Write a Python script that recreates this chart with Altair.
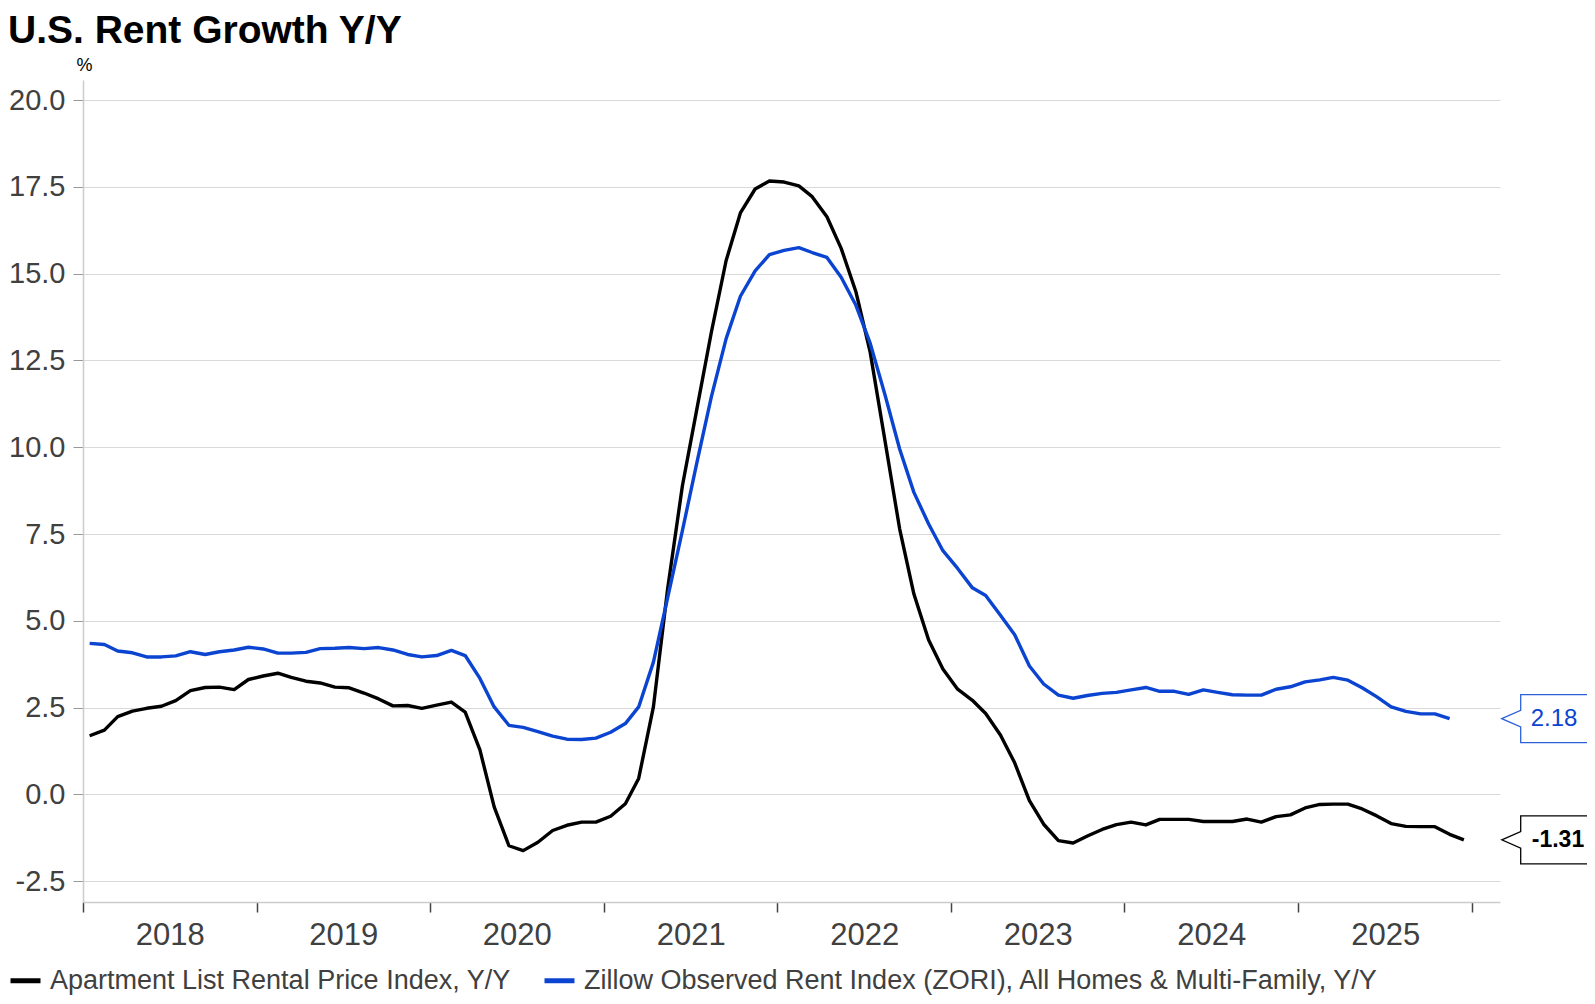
import altair as alt
import pandas as pd

FONT = "Liberation Sans"

S_APT = "Apartment List Rental Price Index, Y/Y"
S_ZORI = "Zillow Observed Rent Index (ZORI), All Homes & Multi-Family, Y/Y"

years = list(range(2018, 2026))

# Apartment List, Jan 2018 .. Dec 2025 (monthly, %)
apt = [
    1.69, 1.85, 2.24, 2.40, 2.48, 2.54, 2.70, 2.99, 3.08, 3.09, 3.02, 3.31,
    3.41, 3.49, 3.37, 3.26, 3.21, 3.09, 3.07, 2.92, 2.75, 2.55, 2.56, 2.48,
    2.57, 2.66, 2.37, 1.28, -0.36, -1.48, -1.62, -1.38, -1.04, -0.89, -0.80, -0.80,
    -0.63, -0.27, 0.46, 2.52, 5.93, 8.89, 11.07, 13.32, 15.38, 16.75, 17.44, 17.67,
    17.64, 17.53, 17.22, 16.64, 15.73, 14.48, 12.74, 10.20, 7.65, 5.77, 4.45, 3.61,
    3.03, 2.71, 2.33, 1.71, 0.91, -0.18, -0.86, -1.33, -1.40, -1.20, -1.01, -0.87,
    -0.80, -0.88, -0.72, -0.72, -0.72, -0.78, -0.78, -0.78, -0.71, -0.80, -0.64, -0.59,
    -0.39, -0.29, -0.28, -0.28, -0.42, -0.62, -0.84, -0.92, -0.93, -0.93, -1.15, -1.31,
]

# Zillow ZORI, Jan 2018 .. Nov 2025 (monthly, %)
zori = [
    4.35, 4.32, 4.13, 4.08, 3.96, 3.96, 3.99, 4.11, 4.03, 4.11, 4.16, 4.24,
    4.19, 4.07, 4.07, 4.09, 4.20, 4.21, 4.23, 4.20, 4.23, 4.16, 4.03, 3.96,
    4.00, 4.15, 4.00, 3.34, 2.52, 1.99, 1.93, 1.81, 1.68, 1.59, 1.58, 1.62,
    1.79, 2.04, 2.52, 3.81, 5.67, 7.60, 9.53, 11.46, 13.13, 14.35, 15.08, 15.55,
    15.67, 15.75, 15.61, 15.47, 14.90, 14.09, 13.00, 11.52, 9.95, 8.70, 7.79, 7.02,
    6.51, 5.95, 5.73, 5.16, 4.60, 3.70, 3.18, 2.86, 2.77, 2.85, 2.91, 2.94,
    3.01, 3.08, 2.97, 2.97, 2.88, 3.01, 2.94, 2.87, 2.86, 2.86, 3.03, 3.10,
    3.24, 3.30, 3.37, 3.29, 3.07, 2.81, 2.52, 2.39, 2.32, 2.32, 2.18,
]

months = [f"{y}-{m:02d}-15T00:00:00" for y in years for m in range(1, 13)]

rows = []
for d, v in zip(months, apt):
    rows.append({"date": d, "value": v, "series": S_APT})
for d, v in zip(months, zori):
    rows.append({"date": d, "value": v, "series": S_ZORI})
df = pd.DataFrame(rows)

last_apt = pd.DataFrame([{"date": months[len(apt) - 1], "value": apt[-1], "label": f"{apt[-1]:.2f}"}])
last_zori = pd.DataFrame([{"date": months[len(zori) - 1], "value": zori[-1], "label": f"{zori[-1]:.2f}"}])

BLUE = "#0a44d0"
BLUE_BOX = "#2e62dc"

x_enc = alt.X(
    "date:T",
    title=None,
    scale=alt.Scale(domain=[alt.DateTime(year=2018, month=1, date=1),
                            alt.DateTime(year=2026, month=3, date=1)]),
    axis=alt.Axis(
        values=[alt.DateTime(year=y, month=1, date=1) for y in range(2018, 2027)],
        format="%Y",
        labelExpr="year(datum.value) >= 2026 ? '' : datum.label",
        labelOffset=86.75,
        labelFlush=False,
        labelOverlap=False,
        labelFontSize=31,
        labelColor="#404040",
        labelFont=FONT,
        labelPadding=8,
        tickSize=10,
        tickColor="#444444",
        tickWidth=1.5,
        domainColor="#cccccc",
        domainWidth=1.5,
        grid=False,
    ),
)

y_enc = alt.Y(
    "value:Q",
    scale=alt.Scale(domain=[-3.1, 20.58], nice=False, zero=False),
    axis=alt.Axis(
        values=[-2.5, 0, 2.5, 5, 7.5, 10, 12.5, 15, 17.5, 20],
        format=".1f",
        labelExpr="replace(datum.label, '\u2212', '-')",
        labelFontSize=29,
        labelColor="#404040",
        labelFont=FONT,
        labelPadding=8,
        tickSize=10,
        tickColor="#999999",
        domainColor="#cccccc",
        domainWidth=1.5,
        grid=True,
        gridColor="#d9d9d9",
        gridWidth=1.2,
        title="%",
        titleAngle=0,
        titleX=1,
        titleY=-10,
        titleAlign="center",
        titleBaseline="alphabetic",
        titleFontSize=18,
        titleFontWeight="normal",
        titleColor="#000000",
        titleFont=FONT,
    ),
)

lines = alt.Chart(df).mark_line(strokeWidth=3.4, strokeJoin="round").encode(
    x=x_enc,
    y=y_enc,
    color=alt.Color(
        "series:N",
        scale=alt.Scale(domain=[S_APT, S_ZORI], range=["#000000", BLUE]),
        legend=alt.Legend(
            title=None,
            orient="none",
            legendX=-75,
            legendY=883,
            direction="horizontal",
            symbolType="stroke",
            symbolStrokeWidth=5,
            symbolSize=900,
            labelFontSize=27,
            labelFont=FONT,
            labelColor="#404040",
            labelOffset=7,
            columnPadding=23,
            padding=0,
            labelLimit=0,
        ),
    ),
)

# callout shapes (tip at left, box to the right)
path_blue = "M -1 0 L -0.566 -0.19 L -0.566 -0.55 L 1 -0.55 L 1 0.55 L -0.566 0.55 L -0.566 0.19 Z"
path_black = "M -1 0 L -0.65 -0.153 L -0.65 -0.443 L 1 -0.443 L 1 0.443 L -0.65 0.443 L -0.65 0.153 Z"

box_zori = alt.Chart(last_zori).mark_point(
    shape=path_blue, size=7621, filled=True, fill="white", stroke=BLUE_BOX,
    strokeWidth=1.3, opacity=1, fillOpacity=1, strokeOpacity=1,
).encode(x=alt.value(1462.4), y=alt.Y("value:Q"))

box_apt = alt.Chart(last_apt).mark_point(
    shape=path_black, size=11728, filled=True, fill="white", stroke="#000000",
    strokeWidth=1.3, opacity=1, fillOpacity=1, strokeOpacity=1,
).encode(x=alt.value(1472.9), y=alt.Y("value:Q"))

txt_zori = alt.Chart(last_zori).mark_text(
    font=FONT, fontSize=24, color=BLUE, align="center", baseline="middle",
).encode(x=alt.value(1471), y=alt.Y("value:Q"), text="label:N")

txt_apt = alt.Chart(last_apt).mark_text(
    font=FONT, fontSize=23, fontWeight="bold", color="#000000", align="center", baseline="middle",
).encode(x=alt.value(1475), y=alt.Y("value:Q"), text="label:N")

chart = alt.layer(lines, box_zori, box_apt, txt_zori, txt_apt).properties(
    width=1417,
    height=822,
    autosize=alt.AutoSizeParams(type="none"),
    padding={"left": 75, "top": 72, "right": 87, "bottom": 94},
    title=alt.TitleParams(
        "U.S. Rent Growth Y/Y",
        anchor="start",
        frame="group",
        dx=-75,
        fontSize=39,
        fontWeight="bold",
        font=FONT,
        color="#000000",
        offset=5,
    ),
).configure(background="white").configure_view(stroke=None)

chart.save("out.html", embed_options={"renderer": "svg", "actions": False})
